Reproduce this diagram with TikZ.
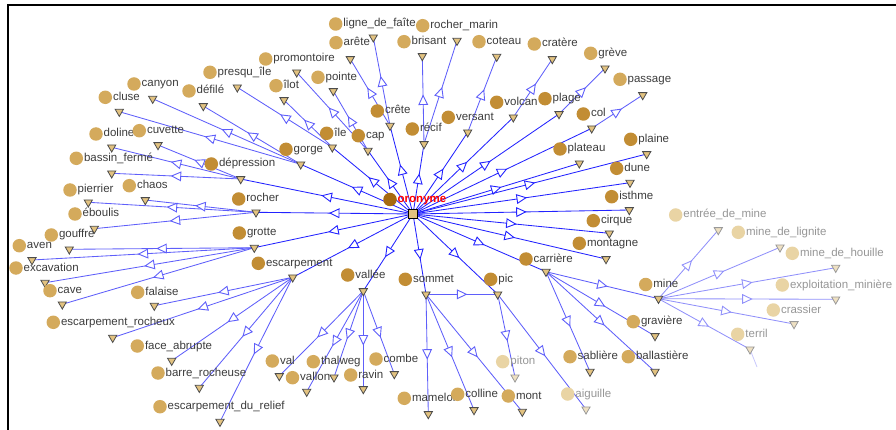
\documentclass[tikz,border=0pt]{standalone}
\usepackage{fontspec}
\setmainfont{Liberation Sans}
\usetikzlibrary{decorations.markings,shapes.geometric,backgrounds}
\definecolor{dotA}{RGB}{166,106,16}
\definecolor{dotB}{RGB}{194,141,52}
\definecolor{dotC}{RGB}{212,170,92}
\definecolor{dotD}{RGB}{233,212,164}
\definecolor{trifill}{RGB}{226,194,128}
\definecolor{tripale}{RGB}{238,224,194}
\definecolor{txt}{RGB}{60,60,60}
\definecolor{txtpale}{RGB}{150,150,150}
\definecolor{edA}{RGB}{35,35,255}
\definecolor{edB}{RGB}{95,95,250}
\definecolor{edC}{RGB}{145,145,250}
\tikzset{
  x=1pt,y=-1pt,
  dotbase/.style={circle,inner sep=0pt,minimum size=13.5pt},
  lvA/.style={dotbase,fill=dotA},
  lv1/.style={dotbase,fill=dotB},
  lv2/.style={dotbase,fill=dotC},
  lv3/.style={dotbase,fill=dotD},
  lblbase/.style={anchor=west,inner sep=0pt,font=\fontsize{11.5}{12}\selectfont,text height=8pt,text depth=2pt},
  lbl1/.style={lblbase,text=txt},
  lbl2/.style={lblbase,text=txt},
  lbl3/.style={lblbase,text=txtpale},
  mk1/.style={regular polygon,regular polygon sides=3,shape border rotate=180,inner sep=0pt,minimum size=9.5pt,fill=trifill,draw=black!70,line width=0.8pt},
  mk2/.style={mk1},
  mk3/.style={mk1,fill=tripale,draw=black!40},
  midarrow/.style={postaction={decorate},decoration={markings,mark=at position 0.5 with {\draw[fill=white,line width=0.9pt] (4.5,0) -- (-4.5,4.3) -- (-4.5,-4.3) -- cycle;}}},
  eA/.style={color=edA,line width=0.85pt,midarrow},
  eB/.style={color=edB,line width=0.85pt,midarrow},
  eC/.style={color=edC,line width=0.85pt,midarrow},
}
\newcommand\term[7]{%
  \node[lv#2] (#1d) at (#3,#4) {};
  \node[lbl#2] (#1l) at ({#3+7.5},#4) {#7};
  \node[mk#2] (#1) at (#5,#6) {};}
\begin{document}
\begin{tikzpicture}
\useasboundingbox (0,0) rectangle (896,430);
\draw[line width=2pt] (8,430) -- (8,5) -- (896,5);
% centre
\node[lvA] (orod) at (390,199.5) {};
\node[lblbase,text=red,font=\fontsize{11.5}{12}\selectfont\bfseries] (orol) at (397.5,199.5) {oronyme};
\node[draw=black,fill=trifill,line width=1.2pt,minimum size=9pt,inner sep=0pt] (oro) at (413,214) {};
% level 1
\term{crete}{1}{377.3}{111}{390}{125.7}{crête}
\term{recif}{1}{412.3}{129}{424}{144}{récif}
\term{versant}{1}{448.3}{117.3}{467.7}{132.3}{versant}
\term{volcan}{1}{496.7}{102.3}{513.3}{117.3}{volcan}
\term{plage}{1}{545}{98.7}{559}{114}{plage}
\term{col}{1}{583.3}{114}{591.7}{128.3}{col}
\term{plateau}{1}{560}{149}{579.3}{163.3}{plateau}
\term{plaine}{1}{630.7}{139.3}{646.7}{154}{plaine}
\term{dune}{1}{616.7}{168.3}{630}{182.7}{dune}
\term{isthme}{1}{611.7}{196.7}{629.3}{210}{isthme}
\term{cirque}{1}{593.3}{220.7}{609.3}{233.3}{cirque}
\term{montagne}{1}{579.3}{243.3}{606}{259}{montagne}
\term{carriere}{1}{526}{259}{546}{271.7}{carrière}
\term{ile}{1}{326.7}{133.3}{332.3}{147.3}{île}
\term{cap}{1}{358.3}{135.7}{368}{150.7}{cap}
\term{gorge}{1}{286}{149.3}{300.7}{164.3}{gorge}
\term{depression}{1}{211.3}{164}{240.7}{179}{dépression}
\term{rocher}{1}{238.7}{199}{256}{212.3}{rocher}
\term{grotte}{1}{239.3}{233}{254.3}{247.7}{grotte}
\term{escarpement}{1}{258.3}{263.3}{292.7}{277.3}{escarpement}
\term{vallee}{1}{347.7}{275}{363.3}{291}{vallée}
\term{sommet}{1}{405.3}{279.3}{426}{294.3}{sommet}
\term{pic}{1}{490.7}{279.3}{497.7}{294.3}{pic}
% level 2
\term{lignedefaite}{2}{335.7}{24}{373.3}{37.3}{ligne\_de\_faîte}
\term{arete}{2}{336}{42.7}{350.3}{59}{arête}
\term{rochermarin}{2}{422.7}{25.7}{457}{40.7}{rocher\_marin}
\term{brisant}{2}{404}{41.7}{422.3}{56}{brisant}
\term{coteau}{2}{479}{41.7}{496.7}{56.7}{coteau}
\term{cratere}{2}{534.3}{44}{552.3}{59}{cratère}
\term{greve}{2}{590.7}{53.3}{605}{68.3}{grève}
\term{passage}{2}{620}{79.3}{642.7}{95}{passage}
\term{promontoire}{2}{265.7}{59}{296.7}{72.3}{promontoire}
\term{pointe}{2}{318}{77.3}{333.3}{91}{pointe}
\term{presquile}{2}{210}{72.3}{237.3}{87.3}{presqu\_île}
\term{ilot}{2}{276}{85.7}{284}{100}{îlot}
\term{canyon}{2}{134}{84}{152.7}{98.7}{canyon}
\term{defile}{2}{189}{91}{203.3}{106}{défilé}
\term{cluse}{2}{105.3}{97.3}{119.3}{111.7}{cluse}
\term{doline}{2}{96}{134}{111.7}{147.3}{doline}
\term{cuvette}{2}{139.3}{130.7}{158}{145}{cuvette}
\term{bassinferme}{2}{76.3}{158.3}{111.7}{173.3}{bassin\_fermé}
\term{pierrier}{2}{70}{190}{88.3}{202.3}{pierrier}
\term{chaos}{2}{129.3}{185.7}{145.3}{200}{chaos}
\term{eboulis}{2}{75}{214}{94.3}{228.7}{éboulis}
\term{gouffre}{2}{51.3}{235}{69.3}{249.3}{gouffre}
\term{aven}{2}{19.3}{245.7}{32}{260}{aven}
\term{excavation}{2}{16}{268}{45}{282.7}{excavation}
\term{cave}{2}{50}{290.7}{62.3}{304.3}{cave}
\term{falaise}{2}{137.7}{292.3}{154.3}{305.7}{falaise}
\term{escroch}{2}{53.3}{322.3}{112.7}{337.7}{escarpement\_rocheux}
\term{faceabrupte}{2}{137.3}{346}{171.7}{360.7}{face\_abrupte}
\term{barreroch}{2}{158}{373}{199.3}{387.7}{barre\_rocheuse}
\term{escrelief}{2}{160}{406.7}{220}{421.7}{escarpement\_du\_relief}
\term{val}{2}{272.3}{361}{279.3}{376}{val}
\term{vallon}{2}{292.5}{377.7}{306.7}{391.7}{vallon}
\term{thalweg}{2}{313.3}{361.7}{334}{377.3}{thalweg}
\term{ravin}{2}{350.7}{375}{363.3}{389}{ravin}
\term{combe}{2}{376}{359}{394.3}{374}{combe}
\term{mamelon}{2}{404.3}{398.3}{428.3}{414}{mamelon}
\term{colline}{2}{457.7}{394.3}{474}{410}{colline}
\term{mont}{2}{508.3}{396}{522.3}{411.7}{mont}
\term{piton}{3}{502.7}{361.7}{515}{377.3}{piton}
\term{aiguille}{3}{567.7}{394}{586}{409.3}{aiguille}
\term{sabliere}{2}{570}{356.7}{590}{371.7}{sablière}
\term{graviere}{2}{633.3}{321.7}{655}{336}{gravière}
\term{ballastiere}{2}{628.3}{356.7}{655}{371.7}{ballastière}
\term{mine}{2}{645.7}{284.5}{658.5}{298.7}{mine}
% level 3
\term{entree}{3}{675.7}{215}{718.3}{230}{entrée\_de\_mine}
\term{lignite}{3}{738.3}{232.3}{780}{247.3}{mine\_de\_lignite}
\term{houille}{3}{792.3}{253.3}{835.7}{267.7}{mine\_de\_houille}
\term{exploit}{3}{782.3}{285}{835.7}{299.3}{exploitation\_minière}
\term{crassier}{3}{773.3}{310}{794}{324}{crassier}
\term{terril}{3}{737.7}{334.3}{750}{349.3}{terril}
\coordinate (terrilend) at (757,367);
\begin{pgfonlayer}{background}
\foreach \c in {crete,recif,versant,volcan,plage,col,plateau,plaine,dune,isthme,cirque,montagne,carriere,ile,cap,gorge,depression,rocher,grotte,escarpement,vallee,sommet,pic}
  \draw[eA] (oro.center) -- (\c.center);
\foreach \p/\c in {crete/lignedefaite,crete/arete,recif/rochermarin,recif/brisant,versant/coteau,volcan/cratere,plage/greve,col/passage,cap/promontoire,cap/pointe,ile/presquile,ile/ilot,gorge/canyon,gorge/defile,gorge/cluse,depression/doline,depression/cuvette,depression/bassinferme,rocher/pierrier,rocher/chaos,rocher/eboulis,grotte/gouffre,grotte/aven,grotte/excavation,grotte/cave,escarpement/falaise,escarpement/escroch,escarpement/faceabrupte,escarpement/barreroch,escarpement/escrelief,vallee/val,vallee/vallon,vallee/thalweg,vallee/ravin,vallee/combe,sommet/pic,sommet/mamelon,sommet/colline,sommet/mont,pic/piton,pic/aiguille,carriere/sabliere,carriere/graviere,carriere/ballastiere,carriere/mine}
  \draw[eB] (\p.center) -- (\c.center);
\foreach \c in {entree,lignite,houille,exploit,crassier,terril}
  \draw[eC] (mine.center) -- (\c.center);
\draw[color=edC!50,line width=0.8pt] (terril.center) -- (terrilend);
\end{pgfonlayer}
\end{tikzpicture}
\end{document}
